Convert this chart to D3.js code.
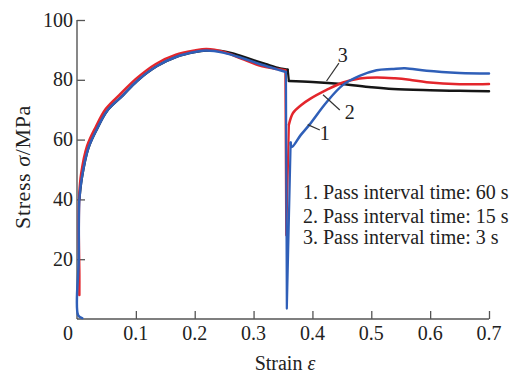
<!DOCTYPE html>
<html>
<head>
<meta charset="utf-8">
<script src="https://cdn.jsdelivr.net/npm/d3@7"></script>
<style>
  html, body { margin: 0; padding: 0; background: #ffffff; }
  svg text { font-family: "Liberation Serif", "Times New Roman", serif; fill: #222; }
</style>
</head>
<body>
<svg id="chart" width="521" height="376"></svg>
<script>
// Axis ticks
const xTicks = [0.1, 0.2, 0.3, 0.4, 0.5, 0.6, 0.7];
const yTicks = [20, 40, 60, 80, 100];

// Series 1: 60 s pass interval (blue)
const s1Pass1 = [[0.009,0.3],[0.002,1.2],[0.003,20],[0.004,40],[0.008,47],[0.019,57],[0.034,63.6],[0.051,69.6],[0.078,74.8],[0.102,79.6],[0.136,84.6],[0.17,87.8],[0.2,89.3],[0.22,89.8],[0.25,89],[0.28,87.3],[0.31,85.3],[0.34,83.5],[0.355,82.6]];
const s1DropMin = 3.5;
const s1Pass2 = [[0.363,59],[0.365,57.5],[0.38,61.5],[0.395,65],[0.424,72.5],[0.452,78.3],[0.48,81.3],[0.509,83.2],[0.535,83.6],[0.557,83.9],[0.594,83],[0.65,82.3],[0.7,82.1]];

// Series 2: 15 s pass interval (red)
const s2Pass1 = [[0.004,8],[0.004,15],[0.003,30],[0.004,42],[0.007,48.5],[0.017,57.8],[0.032,64.3],[0.049,70.3],[0.075,75.5],[0.1,80.3],[0.134,85.3],[0.168,88.4],[0.2,89.8],[0.22,90.3],[0.25,89.3],[0.28,87],[0.31,84.8],[0.34,83.6],[0.354,83.2]];
const s2DropMin = 28;
const s2Pass2 = [[0.36,65],[0.367,68.9],[0.38,71.4],[0.396,73.6],[0.424,76.6],[0.452,79.1],[0.48,80.4],[0.509,80.8],[0.54,80.5],[0.565,80],[0.594,79.2],[0.65,78.5],[0.7,78.6]];

// Series 3: 3 s pass interval (black)
const s3Pass1 = [[0.004,40],[0.008,47],[0.019,57],[0.034,63.6],[0.051,69.6],[0.078,74.8],[0.102,79.6],[0.136,84.6],[0.17,87.8],[0.2,89.3],[0.22,89.8],[0.245,89.6],[0.265,88.8],[0.29,87.2],[0.32,85.3],[0.345,83.8],[0.358,83.4]];
const s3Step = [[0.358,83.4],[0.36,79.6]];
const s3Pass2 = [[0.36,79.6],[0.4,79.3],[0.45,78.6],[0.5,77.5],[0.537,76.9],[0.6,76.5],[0.65,76.3],[0.7,76.2]];

const seriesColors = ["#2f5fb8", "#e3262c", "#161616"];

// Curve labels with leader lines: [label, textStrain, textStress, fromStrain, fromStress, toStrain, toStress]
const curveLabels = [
  ["1", 0.421, 62.2, 0.4126, 63.2, 0.392, 65],
  ["2", 0.4635, 69.2, 0.4465, 69.9, 0.418, 75],
  ["3", 0.4516, 88.3, 0.445, 85.6, 0.424, 79.6]
];

const legendLines = [
  "1. Pass interval time: 60 s",
  "2. Pass interval time: 15 s",
  "3. Pass interval time: 3 s"
];

const svg = d3.select("#chart");
const x = d3.scaleLinear().domain([0, 0.7]).range([77, 489]);
const y = d3.scaleLinear().domain([0, 100]).range([319, 20]);

const axisColor = "#555";

// Axes with inward ticks
const gx = svg.append("g").attr("transform", `translate(0,${y(0)})`)
  .call(d3.axisTop(x).tickValues(xTicks).tickSize(8).tickFormat(d3.format(".1f")));
gx.select(".domain").remove();
gx.selectAll(".tick line").attr("stroke", axisColor).attr("stroke-width", 1.3);
gx.selectAll(".tick text").remove();
svg.append("line").attr("x1", x(0)).attr("x2", x(0.7)).attr("y1", y(0)).attr("y2", y(0))
  .attr("stroke", axisColor).attr("stroke-width", 1.4);

const gy = svg.append("g").attr("transform", `translate(${x(0)},0)`)
  .call(d3.axisRight(y).tickValues(yTicks).tickSize(8));
gy.select(".domain").remove();
gy.selectAll(".tick line").attr("stroke", axisColor).attr("stroke-width", 1.3);
gy.selectAll(".tick text").remove();
svg.append("line").attr("x1", x(0)).attr("x2", x(0)).attr("y1", y(0)).attr("y2", y(100))
  .attr("stroke", axisColor).attr("stroke-width", 1.4);

// Tick labels
svg.append("g").selectAll("text").data(xTicks).join("text")
  .attr("x", d => x(d)).attr("y", 340).attr("text-anchor", "middle")
  .attr("font-size", 20).text(d => d3.format(".1f")(d));
svg.append("g").selectAll("text").data(yTicks).join("text")
  .attr("x", 73).attr("y", d => y(d) + 6.5).attr("text-anchor", "end")
  .attr("font-size", 20).text(d => d);
svg.append("text").attr("x", 73).attr("y", 340).attr("text-anchor", "end")
  .attr("font-size", 20).text("0");

// Curves
const smooth = d3.line().x(d => x(d[0])).y(d => y(d[1])).curve(d3.curveCatmullRom.alpha(0.5));
const straight = d3.line().x(d => x(d[0])).y(d => y(d[1]));
const plot = svg.append("g").attr("fill", "none").attr("stroke-linejoin", "round").attr("stroke-linecap", "round");

function drawSeries(pass1, drop, pass2, color) {
  plot.append("path").attr("d", smooth(pass1)).attr("stroke", color).attr("stroke-width", 2.5);
  plot.append("path").attr("d", straight(drop)).attr("stroke", color).attr("stroke-width", 2.2);
  plot.append("path").attr("d", smooth(pass2)).attr("stroke", color).attr("stroke-width", 2.5);
}

drawSeries(s3Pass1, s3Step, s3Pass2, seriesColors[2]);
const s2Last = s2Pass1[s2Pass1.length - 1];
drawSeries(s2Pass1, [s2Last, [0.3555, s2DropMin], s2Pass2[0]], s2Pass2, seriesColors[1]);
const s1Last = s1Pass1[s1Pass1.length - 1];
drawSeries(s1Pass1, [s1Last, [0.3565, s1DropMin], s1Pass2[0]], s1Pass2, seriesColors[0]);

// Curve labels
const lab = svg.append("g");
curveLabels.forEach(([t, tx, ty, fx, fy, ex, ey]) => {
  lab.append("line").attr("x1", x(fx)).attr("y1", y(fy)).attr("x2", x(ex)).attr("y2", y(ey))
    .attr("stroke", "#333").attr("stroke-width", 1.2);
  lab.append("text").attr("x", x(tx)).attr("y", y(ty) + 7).attr("text-anchor", "middle")
    .attr("font-size", 20).text(t);
});

// Legend
const legendBaselines = [199, 223, 244];
svg.append("g").selectAll("text").data(legendLines).join("text")
  .attr("x", 303).attr("y", (d, i) => legendBaselines[i])
  .attr("font-size", 20).text(d => d);

// Axis titles
const yt = svg.append("text").attr("transform", "translate(30,167) rotate(-90)")
  .attr("text-anchor", "middle").attr("font-size", 22).attr("letter-spacing", 0.6);
yt.append("tspan").text("Stress ");
yt.append("tspan").attr("font-style", "italic").text("σ");
yt.append("tspan").text("/MPa");

const xt = svg.append("text").attr("x", 285).attr("y", 370).attr("text-anchor", "middle").attr("font-size", 20);
xt.append("tspan").text("Strain ");
xt.append("tspan").attr("font-style", "italic").text("ε");
</script>
</body>
</html>
